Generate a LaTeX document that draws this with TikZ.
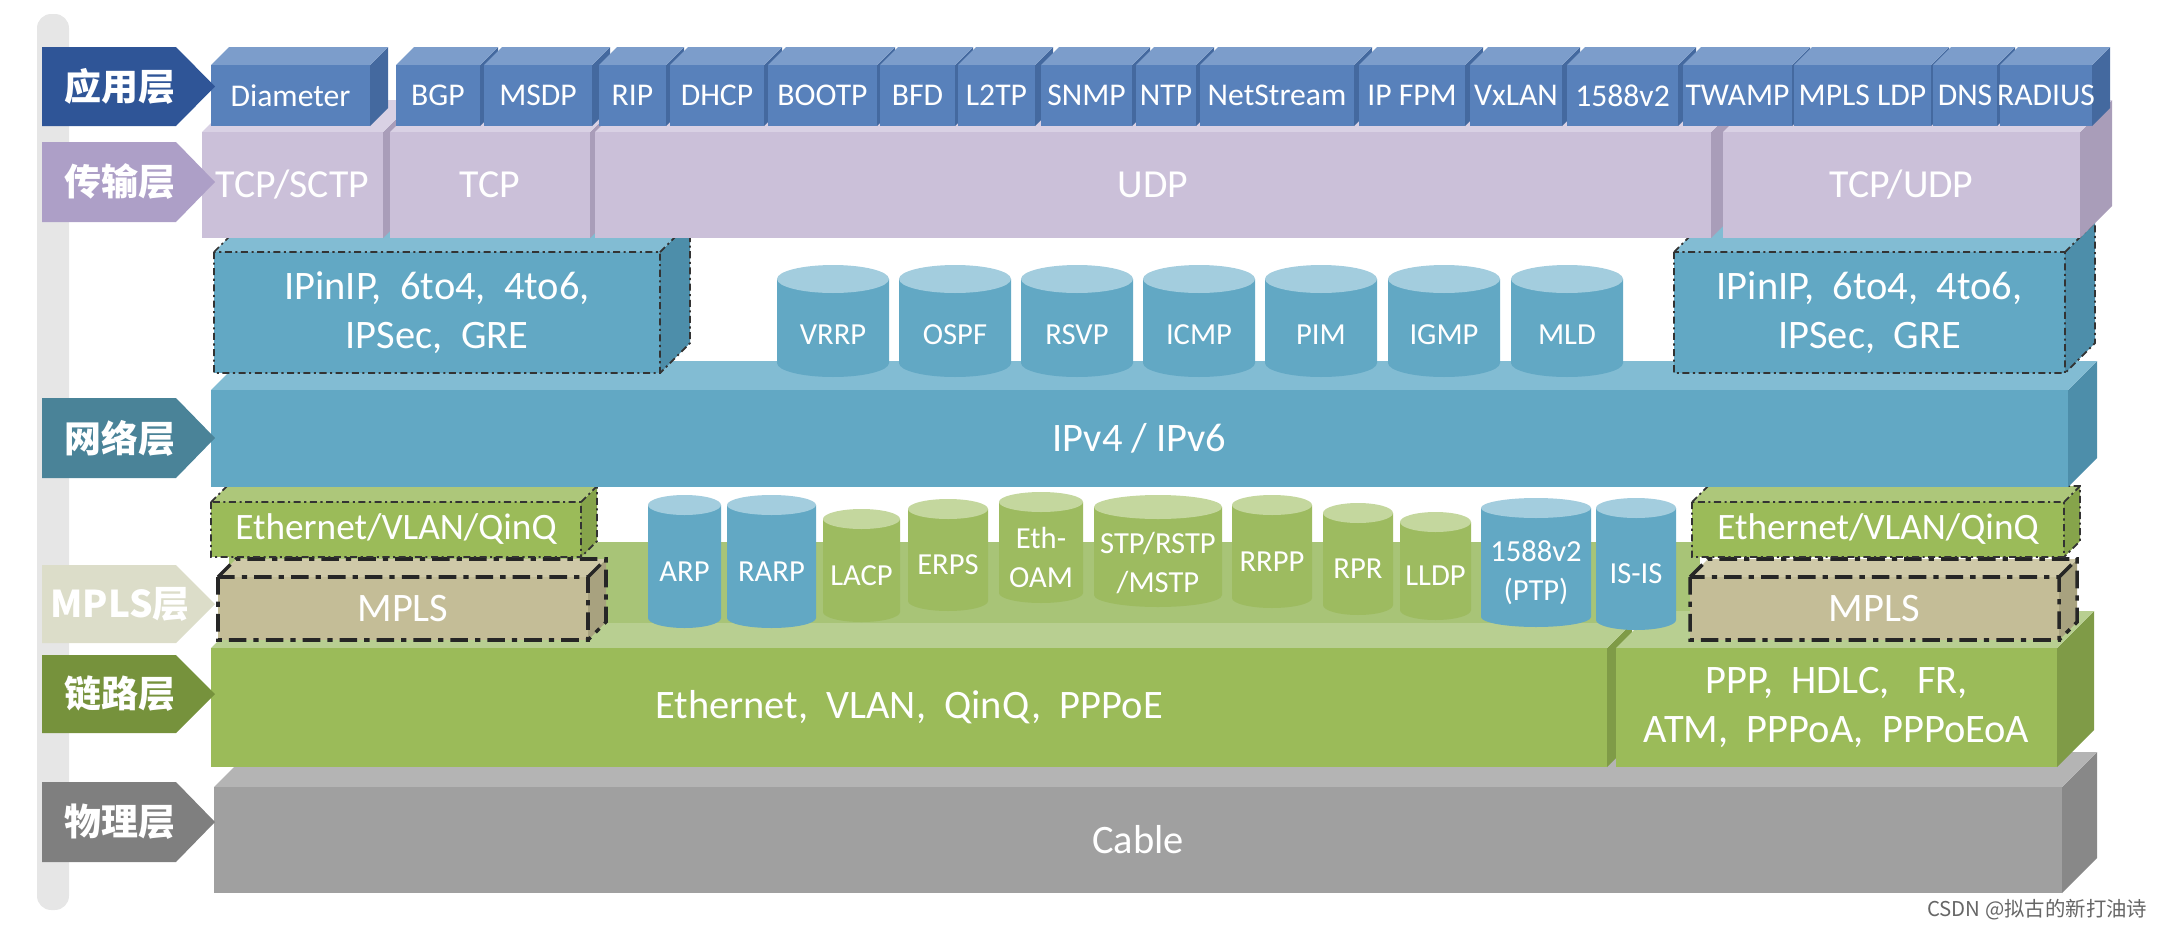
\documentclass[tikz,border=0pt]{standalone}
\usepackage{fontspec}
\setmainfont{Carlito}
\newfontfamily\cjk{Noto Sans CJK SC}

\definecolor{barC}{HTML}{E6E6E6}
\definecolor{appF}{HTML}{5881BB}
\definecolor{appT}{HTML}{7C9DCB}
\definecolor{appS}{HTML}{44699F}
\definecolor{appL}{HTML}{2F5597}
\definecolor{tcpF}{HTML}{CBC0D9}
\definecolor{tcpT}{HTML}{D9D1E4}
\definecolor{tcpS}{HTML}{A99DB9}
\definecolor{tcpL}{HTML}{AD9FC7}
\definecolor{netF}{HTML}{62A8C4}
\definecolor{netT}{HTML}{82BCD3}
\definecolor{netS}{HTML}{4D8EAA}
\definecolor{netL}{HTML}{4A8398}
\definecolor{dnetF}{HTML}{62A8C4}
\definecolor{dnetT}{HTML}{A3CDDE}
\definecolor{linkF}{HTML}{9BBB59}
\definecolor{linkT}{HTML}{B8CF91}
\definecolor{linkS}{HTML}{7F9B47}
\definecolor{linkB}{HTML}{A8C477}
\definecolor{linkL}{HTML}{76923C}
\definecolor{ethF}{HTML}{9BBB59}
\definecolor{ethT}{HTML}{ADC77A}
\definecolor{ethS}{HTML}{86A44B}
\definecolor{dlinkF}{HTML}{9DBB60}
\definecolor{dlinkT}{HTML}{C4D79E}
\definecolor{mplsF}{HTML}{C4BD97}
\definecolor{mplsT}{HTML}{CFC9A8}
\definecolor{mplsS}{HTML}{A8A27F}
\definecolor{mplsL}{HTML}{DCDDC9}
\definecolor{phyF}{HTML}{A0A0A0}
\definecolor{phyT}{HTML}{B4B4B4}
\definecolor{phyS}{HTML}{888888}
\definecolor{phyL}{HTML}{7F7F7F}

\tikzset{
  apptxt/.style={text=white, font=\fontsize{9}{10}\selectfont},
  tcptxt/.style={text=white, font=\fontsize{11.3}{13.5}\selectfont},
  nettxt/.style={text=white, font=\fontsize{11.5}{13.8}\selectfont},
  linktxt/.style={text=white, font=\fontsize{11.5}{13.8}\selectfont},
  ethtxt/.style={text=white, font=\fontsize{10.6}{12}\selectfont},
  mplstxt/.style={text=white, font=\fontsize{11.5}{13}\selectfont},
  phytxt/.style={text=white, font=\fontsize{11.5}{13}\selectfont},
  drumtxt/.style={text=white, font=\fontsize{8.7}{11}\selectfont},
  tagtxt/.style={text=white, font=\cjk\bfseries\fontsize{10.5}{12}\selectfont},
  tunnel/.style={draw=black!80, line width=0.5pt, dash pattern=on 2pt off 1pt on 0.6pt off 1pt},
  mplsline/.style={draw=black!85, line width=1pt, dash pattern=on 5pt off 2pt on 1.5pt off 2pt}
}

% x1, y1, x2, y2, depth, colour, outline, name, text
\newcommand{\layerbox}[9]{%
  \fill[#6S] (#3,#2) -- (#3+#5,#2-#5) -- (#3+#5,#4-#5) -- (#3,#4) -- cycle;
  \fill[#6T] (#1,#2) -- (#1+#5,#2-#5) -- (#3+#5,#2-#5) -- (#3,#2) -- cycle;
  \fill[#6F] (#1,#2) rectangle (#3,#4);
  \draw[#7] (#1,#2) rectangle (#3,#4) (#1,#2) -- (#1+#5,#2-#5) -- (#3+#5,#2-#5) -- (#3+#5,#4-#5) -- (#3,#4) (#3,#2) -- (#3+#5,#2-#5);
  \node[#6txt, align=center] (#8) at ({(#1+#3)/2},{(#2+#4)/2}) {#9};
}

% xl, xr, ytop, ybottom, ry, colour, name, text
\newcommand{\drum}[8]{%
  \fill[#6F] (#1,#3+#5) -- (#1,#4-#5) arc[start angle=180, end angle=0, x radius={(#2-#1)/2}, y radius=#5] -- (#2,#3+#5) -- cycle;
  \fill[#6T] ({(#1+#2)/2},#3+#5) ellipse[x radius={(#2-#1)/2}, y radius=#5];
  \node[drumtxt, align=center] (#7) at ({(#1+#2)/2},{(#3+2*#5+#4)/2}) {#8};
}

% y1, y2, colour, name, text
\newcommand{\layertag}[5]{%
  \fill[#3] (42,#1) -- (176,#1) -- (215,{(#1+#2)/2}) -- (176,#2) -- (42,#2) -- cycle;
  \node[tagtxt] (#4) at (120,{(#1+#2)/2}) {#5};
}

\begin{document}
\begin{tikzpicture}[x=0.01cm, y=-0.01cm]
\useasboundingbox (0,0) rectangle (2162,930);

\fill[barC, rounded corners=4pt] (37,14) rectangle (69,910);

% physical
\layerbox{214}{787}{2062}{893}{35}{phy}{draw=none}{cable}{Cable}

% link
\fill[linkB] (229,542) rectangle (1700,630);
\layerbox{211}{648}{1607}{767}{25}{link}{draw=none}{eth}{Ethernet,~ VLAN,~ QinQ,~ PPPoE}
\layerbox{1616}{648}{2057}{767}{37}{link}{draw=none}{ppp}{PPP,~ HDLC,~~ FR,\\ATM,~ PPPoA,~ PPPoEoA}
\layerbox{218}{577}{588}{640}{18}{mpls}{mplsline}{mplsl}{MPLS}
\layerbox{211}{502}{581}{557}{16}{eth}{tunnel}{vlanl}{Ethernet/VLAN/QinQ}
\layerbox{1690}{577}{2059}{640}{18}{mpls}{mplsline}{mplsr}{MPLS}
\layerbox{1692}{502}{2064}{557}{16}{eth}{tunnel}{vlanr}{Ethernet/VLAN/QinQ}

\drum{648}{721}{495}{628}{10}{dnet}{arp}{ARP}
\drum{727}{816}{495}{628}{10}{dnet}{rarp}{RARP}
\drum{823}{900}{509}{622}{10}{dlink}{lacp}{LACP}
\drum{908}{988}{499}{611}{10}{dlink}{erps}{ERPS}
\drum{999}{1083}{492}{603}{10}{dlink}{oam}{Eth-\\OAM}
\drum{1094}{1222}{495}{607}{12}{dlink}{stp}{STP/RSTP\\/MSTP}
\drum{1232}{1312}{495}{608}{10}{dlink}{rrpp}{RRPP}
\drum{1323}{1393}{503}{615}{10}{dlink}{rpr}{RPR}
\drum{1400}{1471}{512}{620}{10}{dlink}{lldp}{LLDP}
\drum{1481}{1591}{498}{627}{10}{dnet}{ptp}{1588v2\\(PTP)}
\drum{1596}{1676}{498}{630}{10}{dnet}{isis}{IS-IS}

% network
\layerbox{211}{390}{2068}{487}{29}{net}{draw=none}{ip}{IPv4 / IPv6}
\drum{777}{889}{265}{377}{14}{dnet}{vrrp}{VRRP}
\drum{899}{1011}{265}{377}{14}{dnet}{ospf}{OSPF}
\drum{1021}{1133}{265}{377}{14}{dnet}{rsvp}{RSVP}
\drum{1143}{1255}{265}{377}{14}{dnet}{icmp}{ICMP}
\drum{1265}{1377}{265}{377}{14}{dnet}{pim}{PIM}
\drum{1388}{1500}{265}{377}{14}{dnet}{igmp}{IGMP}
\drum{1511}{1623}{265}{377}{14}{dnet}{mld}{MLD}
\layerbox{214}{252}{660}{373}{30}{net}{tunnel}{tunl}{IPinIP,~ 6to4,~ 4to6,\\IPSec,~ GRE}
\layerbox{1674}{252}{2065}{373}{30}{net}{tunnel}{tunr}{IPinIP,~ 6to4,~ 4to6,\\IPSec,~ GRE}

% transport
\layerbox{202}{132}{383}{238}{32}{tcp}{draw=none}{sctp}{TCP/SCTP}
\layerbox{390}{132}{590}{238}{32}{tcp}{draw=none}{tcp}{TCP}
\layerbox{595}{132}{1711}{238}{32}{tcp}{draw=none}{udp}{UDP}
\layerbox{1723}{132}{2080}{238}{32}{tcp}{draw=none}{tcpudp}{TCP/UDP}

% application
\layerbox{211}{65}{370}{126}{18}{app}{draw=none}{diam}{Diameter}
\layerbox{396}{65}{480}{126}{18}{app}{draw=none}{bgp}{BGP}
\layerbox{484}{65}{592}{126}{18}{app}{draw=none}{msdp}{MSDP}
\layerbox{599}{65}{666}{126}{18}{app}{draw=none}{rip}{RIP}
\layerbox{670}{65}{764}{126}{18}{app}{draw=none}{dhcp}{DHCP}
\layerbox{768}{65}{877}{126}{18}{app}{draw=none}{bootp}{BOOTP}
\layerbox{880}{65}{955}{126}{18}{app}{draw=none}{bfd}{BFD}
\layerbox{958}{65}{1035}{126}{18}{app}{draw=none}{ltp}{L2TP}
\layerbox{1041}{65}{1132}{126}{18}{app}{draw=none}{snmp}{SNMP}
\layerbox{1136}{65}{1196}{126}{18}{app}{draw=none}{ntp}{NTP}
\layerbox{1200}{65}{1354}{126}{18}{app}{draw=none}{nets}{NetStream}
\layerbox{1359}{65}{1465}{126}{18}{app}{draw=none}{fpm}{IP FPM}
\layerbox{1470}{65}{1562}{126}{18}{app}{draw=none}{vxlan}{VxLAN}
\layerbox{1567}{65}{1678}{126}{18}{app}{draw=none}{ieee}{1588v2}
\layerbox{1683}{65}{1792}{126}{18}{app}{draw=none}{twamp}{TWAMP}
\layerbox{1794}{65}{1931}{126}{18}{app}{draw=none}{ldp}{MPLS LDP}
\layerbox{1933}{65}{1997}{126}{18}{app}{draw=none}{dns}{DNS}
\layerbox{2000}{65}{2092}{126}{18}{app}{draw=none}{radius}{RADIUS}

% layer tags
\layertag{47}{126}{appL}{tapp}{应用层}
\layertag{142}{222}{tcpL}{ttcp}{传输层}
\layertag{398}{478}{netL}{tnet}{网络层}
\layertag{565}{643}{mplsL}{tmpls}{MPLS层}
\layertag{655}{733}{linkL}{tlink}{链路层}
\layertag{782}{862}{phyL}{tphy}{物理层}

\node[anchor=east, inner sep=0pt, text=black!60, font=\cjk\fontsize{5.8}{7}\selectfont] (mark) at (2148,910) {CSDN @拟古的新打油诗};
\end{tikzpicture}
\end{document}
